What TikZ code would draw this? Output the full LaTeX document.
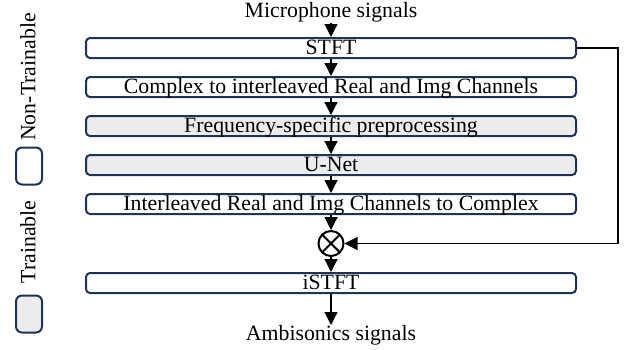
\documentclass[tikz,border=0pt]{standalone}
\usepackage{fontspec}
\setmainfont{Liberation Serif}
\usetikzlibrary{arrows.meta, positioning}

\definecolor{boxblue}{RGB}{31,50,88}
\definecolor{boxgray}{RGB}{236,236,236}

\begin{document}
\begin{tikzpicture}[
        x=0.5pt, y=-0.5pt,
        font=\fontsize{10.9}{13}\selectfont,
        node distance=8.5pt,
        box/.style={rectangle, draw=boxblue, line width=1pt, rounded corners=2pt, minimum width=245pt, minimum height=10pt, inner sep=0pt, text height=8pt, text depth=2pt, align=center},
        trainbox/.style={box, fill=boxgray},
        legendbox/.style={rectangle, draw=boxblue, line width=1pt, rounded corners=3pt, minimum width=13pt, minimum height=18.5pt, inner sep=0pt},
        label/.style={inner sep=0pt},
        mult/.style={circle, draw, line width=1pt, minimum size=12.5pt, inner sep=0pt,
            path picture={\draw[line width=1pt] (path picture bounding box.north west) -- (path picture bounding box.south east)
                (path picture bounding box.north east) -- (path picture bounding box.south west);}},
        >={Triangle[length=6.5pt, width=6.5pt]}, line width=0.6pt
    ]

    \useasboundingbox (0,0) rectangle (624,349);

    % Processing chain
    \node[box] (stft) at (331,48) {STFT};
    \node[box, below=of stft] (cplx) {Complex to interleaved Real and Img Channels};
    \node[trainbox, below=of cplx] (freq) {Frequency-specific preprocessing};
    \node[trainbox, below=of freq] (unet) {U-Net};
    \node[box, below=of unet] (icplx) {Interleaved Real and Img Channels to Complex};
    \node[mult, below=7.5pt of icplx] (mult) {};
    \node[box, below=7.5pt of mult] (istft) {iSTFT};

    % Input and output signals
    \node[label, above=7pt of stft] (mic) {Microphone signals};
    \node[label, below=15.5pt of istft] (amb) {Ambisonics signals};

    % Legend
    \node[label, rotate=90] (nontxt) at (28,77) {Non-Trainable};
    \node[legendbox] (nonbox) at (29,166) {};
    \node[label, rotate=90] (trtxt) at (28,242) {Trainable};
    \node[legendbox, fill=boxgray] (trbox) at (29,314) {};

    % Arrows along the chain
    \draw[->] (mic) -- (stft);
    \draw[->] (stft) -- (cplx);
    \draw[->] (cplx) -- (freq);
    \draw[->] (freq) -- (unet);
    \draw[->] (unet) -- (icplx);
    \draw[->] (icplx) -- (mult);
    \draw[->] (mult) -- (istft);
    \draw[->] (istft) -- (amb);

    % Skip connection from STFT to the product
    \draw[->] (stft.east) -- ++(20.5pt,0) |- (mult.east);

\end{tikzpicture}
\end{document}
